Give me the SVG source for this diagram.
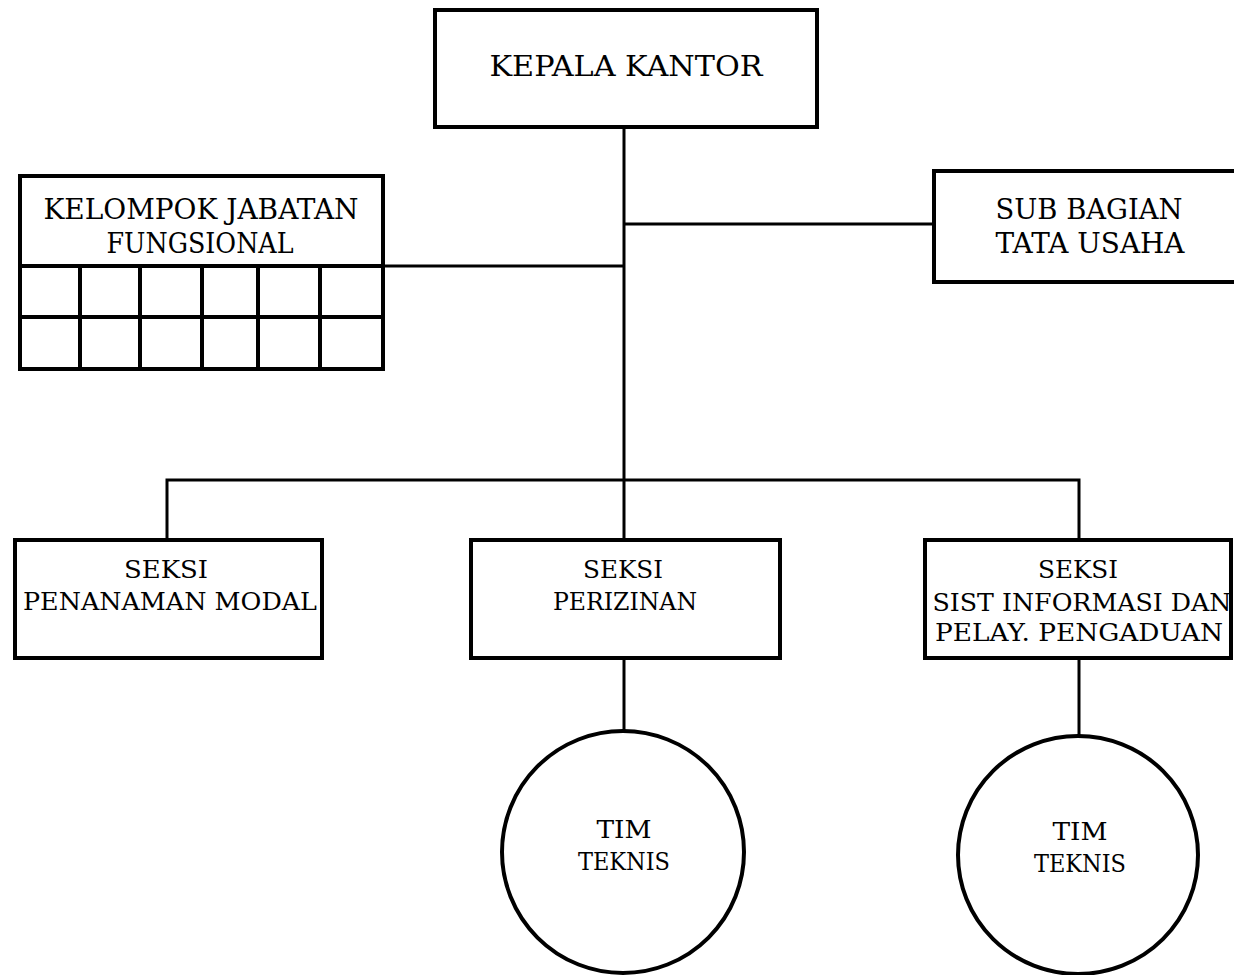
<svg xmlns="http://www.w3.org/2000/svg" width="1234" height="975" viewBox="0 0 1234 975">
<style>
.box{fill:#fff;stroke:#000;stroke-width:4}
.ln{fill:none;stroke:#000;stroke-width:3}
.gr{fill:none;stroke:#000;stroke-width:4}
.t1{font-family:"DejaVu Serif","Liberation Serif",serif;font-size:28px;fill:#000;text-anchor:middle}
.t2{font-family:"DejaVu Serif","Liberation Serif",serif;font-size:25px;fill:#000;text-anchor:middle}
</style>
<rect width="1234" height="975" fill="#fff"/>
<g id="connectors">
<line class="ln" x1="624" y1="127" x2="624" y2="540"/>
<line class="ln" x1="624" y1="224" x2="934" y2="224"/>
<line class="ln" x1="383" y1="266" x2="624" y2="266"/>
<polyline class="ln" points="167,540 167,480 1079,480 1079,540"/>
<line class="ln" x1="624" y1="658" x2="624" y2="731"/>
<line class="ln" x1="1079" y1="658" x2="1079" y2="735"/>
</g>
<g id="kepala">
<rect class="box" x="435" y="10" width="382" height="117"/>
<text class="t1" x="626" y="76" textLength="273" lengthAdjust="spacingAndGlyphs">KEPALA KANTOR</text>
</g>
<g id="kelompok">
<rect class="box" x="20" y="176" width="363" height="193"/>
<line class="gr" x1="20" y1="266" x2="383" y2="266"/>
<line class="gr" x1="20" y1="317" x2="383" y2="317"/>
<line class="gr" x1="80" y1="266" x2="80" y2="369"/>
<line class="gr" x1="140" y1="266" x2="140" y2="369"/>
<line class="gr" x1="202" y1="266" x2="202" y2="369"/>
<line class="gr" x1="258" y1="266" x2="258" y2="369"/>
<line class="gr" x1="320" y1="266" x2="320" y2="369"/>
<text class="t1" x="201" y="219" textLength="315" lengthAdjust="spacingAndGlyphs">KELOMPOK JABATAN</text>
<text class="t1" x="200" y="253" textLength="187" lengthAdjust="spacingAndGlyphs">FUNGSIONAL</text>
</g>
<g id="subbagian">
<rect class="box" x="934" y="171" width="304" height="111"/>
<text class="t1" x="1089" y="219" textLength="187" lengthAdjust="spacingAndGlyphs">SUB BAGIAN</text>
<text class="t1" x="1090" y="253" textLength="189" lengthAdjust="spacingAndGlyphs">TATA USAHA</text>
</g>
<g id="seksi-pm">
<rect class="box" x="15" y="540" width="307" height="118"/>
<text class="t2" x="166" y="578" textLength="84" lengthAdjust="spacingAndGlyphs">SEKSI</text>
<text class="t2" x="170" y="610" textLength="294" lengthAdjust="spacingAndGlyphs">PENANAMAN MODAL</text>
</g>
<g id="seksi-perizinan">
<rect class="box" x="471" y="540" width="309" height="118"/>
<text class="t2" x="623" y="578" textLength="80" lengthAdjust="spacingAndGlyphs">SEKSI</text>
<text class="t2" x="625" y="610" textLength="144" lengthAdjust="spacingAndGlyphs">PERIZINAN</text>
</g>
<g id="seksi-sist">
<rect class="box" x="925" y="540" width="306" height="118"/>
<text class="t2" x="1078" y="578" textLength="80" lengthAdjust="spacingAndGlyphs">SEKSI</text>
<text class="t2" x="1082" y="611" textLength="299" lengthAdjust="spacingAndGlyphs">SIST INFORMASI DAN</text>
<text class="t2" x="1079" y="641" textLength="288" lengthAdjust="spacingAndGlyphs">PELAY. PENGADUAN</text>
</g>
<g id="tim1">
<ellipse class="box" cx="623" cy="852" rx="121" ry="121"/>
<text class="t2" x="624" y="838" textLength="55" lengthAdjust="spacingAndGlyphs">TIM</text>
<text class="t2" x="624" y="870" textLength="92" lengthAdjust="spacingAndGlyphs">TEKNIS</text>
</g>
<g id="tim2">
<ellipse class="box" cx="1078" cy="855" rx="120" ry="119"/>
<text class="t2" x="1080" y="840" textLength="55" lengthAdjust="spacingAndGlyphs">TIM</text>
<text class="t2" x="1080" y="872" textLength="92" lengthAdjust="spacingAndGlyphs">TEKNIS</text>
</g>
</svg>
